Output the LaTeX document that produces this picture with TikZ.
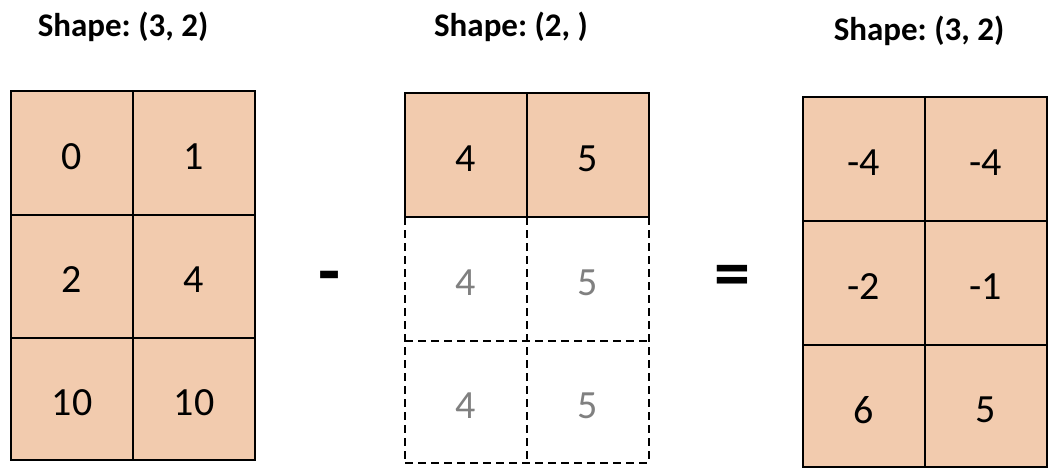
\documentclass[tikz,border=0pt]{standalone}
\usepackage{fontspec}
\setmainfont{Carlito}
\frenchspacing
\definecolor{peach}{RGB}{242,203,174}
\definecolor{ghost}{RGB}{128,128,128}
\tikzset{
  cellbox/.style={draw=black, line width=2.3pt, fill=peach},
  dashline/.style={draw=black, line width=2.3pt, dash pattern=on 8pt off 5pt},
  num/.style={font=\fontsize{40}{44}\selectfont, text=black, inner sep=0pt},
  ghostnum/.style={num, text=ghost},
  title/.style={font=\bfseries\fontsize{33}{36}\selectfont, anchor=base, inner sep=0pt},
  op/.style={font=\bfseries\fontsize{72}{72}\selectfont, inner sep=0pt}
}
\begin{document}
\begin{tikzpicture}[x=1pt,y=-1pt]
\useasboundingbox (0,0) rectangle (1058,468);
% titles
\node[title] (t1) at (123,37) {Shape: (3, 2)};
\node[title] (t2) at (511,37) {Shape: (2, )};
\node[title] (t3) at (919,41) {Shape: (3, 2)};
% left grid
\foreach \r/\ya/\yb in {0/91/215,1/215/338,2/338/460}{
  \draw[cellbox] (11,\ya) rectangle (133,\yb);
  \draw[cellbox] (133,\ya) rectangle (255,\yb);
}
\node[num] (a00) at (72,157) {0};
\node[num] (a01) at (194,157) {1};
\node[num] (a10) at (72,280) {2};
\node[num] (a11) at (194,280) {4};
\node[num] (a20) at (72,403) {10};
\node[num] (a21) at (194,403) {10};
% middle grid
\draw[cellbox] (405,93) rectangle (527,217);
\draw[cellbox] (527,93) rectangle (649,217);
\draw[dashline] (405,217) -- (405,463);
\draw[dashline] (527,217) -- (527,463);
\draw[dashline] (649,217) -- (649,463);
\draw[dashline] (405,341) -- (649,341);
\draw[dashline] (405,463) -- (649,463);
\node[num] (b00) at (466,159) {4};
\node[num] (b01) at (588,159) {5};
\node[ghostnum] (b10) at (466,283) {4};
\node[ghostnum] (b11) at (588,283) {5};
\node[ghostnum] (b20) at (466,406) {4};
\node[ghostnum] (b21) at (588,406) {5};
% operators
\node[op] (minus) at (329.5,283.5) {-};
\node[op] (eq) at (732,281) {=};
% right grid
\foreach \r/\ya/\yb in {0/97/221,1/221/345,2/345/467}{
  \draw[cellbox] (803,\ya) rectangle (925,\yb);
  \draw[cellbox] (925,\ya) rectangle (1047,\yb);
}
\node[num] (c00) at (864,163) {-4};
\node[num] (c01) at (986,163) {-4};
\node[num] (c10) at (864,287) {-2};
\node[num] (c11) at (986,287) {-1};
\node[num] (c20) at (864,410) {6};
\node[num] (c21) at (986,410) {5};
\end{tikzpicture}
\end{document}
